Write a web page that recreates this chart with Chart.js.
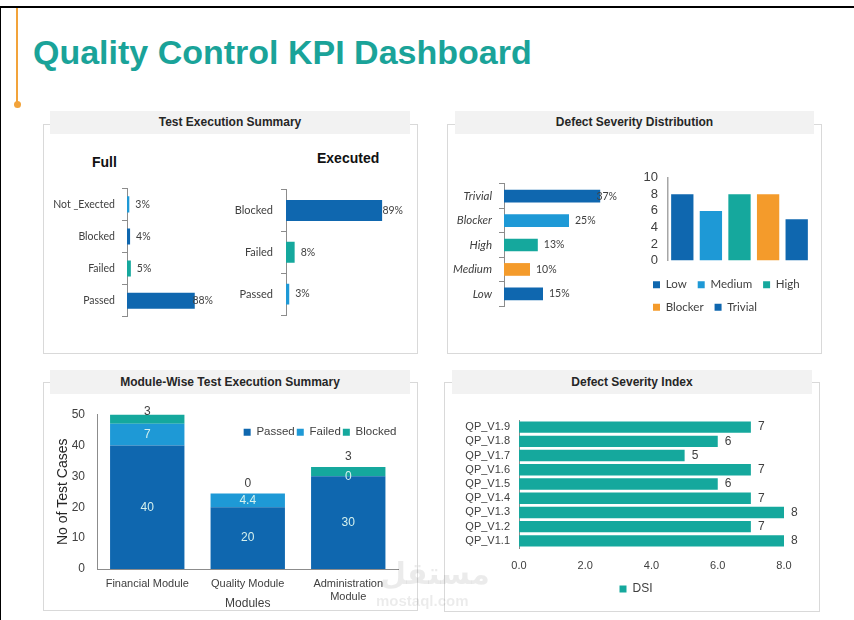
<!DOCTYPE html>
<html>
<head>
<meta charset="utf-8">
<title>Quality Control KPI Dashboard</title>
<script src="https://cdn.jsdelivr.net/npm/chart.js@4.4.1/dist/chart.umd.min.js"></script>
<style>
  html, body { margin: 0; padding: 0; background: #fff; }
  #page { position: relative; width: 854px; height: 620px; overflow: hidden; font-family: 'Liberation Sans', Arial, sans-serif; }
  .frame-top { position: absolute; left: 0; top: 6px; width: 854px; height: 2px; background: #000; }
  .frame-left { position: absolute; left: 0; top: 6px; width: 1px; height: 614px; background: #000; }
  .accent { position: absolute; left: 16px; top: 8px; width: 1.5px; height: 94px; background: #F2A33A; }
  .accent-dot { position: absolute; left: 13.5px; top: 100.5px; width: 7px; height: 7px; border-radius: 50%; background: #F2A33A; }
  h1 { position: absolute; left: 33px; top: 35px; margin: 0; font-size: 34px; line-height: 34px; font-weight: bold; color: #1AA399; white-space: nowrap; }
  .panel { position: absolute; border: 1px solid #D9D9D9; box-sizing: border-box; }
  .panel-title { position: absolute; background: #F2F2F2; text-align: center; font-size: 12px; font-weight: bold; color: #262626; }
  .sub { position: absolute; font-size: 14px; line-height: 16px; font-weight: bold; color: #111; }
  .wm { position: absolute; color: rgba(0,0,0,0.08); font-weight: bold; white-space: nowrap; }
  canvas { position: absolute; }
</style>
</head>
<body>
<div id="page">
  <div class="frame-top"></div>
  <div class="frame-left"></div>
  <div class="accent"></div>
  <div class="accent-dot"></div>
  <h1>Quality Control KPI Dashboard</h1>

  <div class="panel" style="left:43px;top:124px;width:375px;height:230px"></div>
  <div class="panel-title" style="left:50px;top:111px;width:360px;height:23px;line-height:23px">Test Execution Summary</div>
  <div class="panel" style="left:447px;top:124px;width:375px;height:230px"></div>
  <div class="panel-title" style="left:455px;top:111px;width:359px;height:23px;line-height:23px">Defect Severity Distribution</div>
  <div class="panel" style="left:43px;top:382px;width:375px;height:229px"></div>
  <div class="panel-title" style="left:50px;top:370px;width:360px;height:24px;line-height:24px">Module-Wise Test Execution Summary</div>
  <div class="panel" style="left:444px;top:382px;width:376px;height:230px"></div>
  <div class="panel-title" style="left:452px;top:370px;width:360px;height:24px;line-height:24px">Defect Severity Index</div>

  <div class="sub" style="left:92px;top:154px">Full</div>
  <div class="sub" style="left:317px;top:150px">Executed</div>

  <canvas id="cFull" width="180" height="155" style="left:45px;top:175px"></canvas>
  <canvas id="cExec" width="200" height="155" style="left:215px;top:175px"></canvas>
  <canvas id="cSev" width="180" height="150" style="left:450px;top:170px"></canvas>
  <canvas id="cSevCount" width="185" height="163" style="left:642px;top:160px"></canvas>
  <canvas id="cModule" width="370" height="221" style="left:45px;top:391px"></canvas>
  <canvas id="cDsi" width="370" height="205" style="left:448px;top:400px"></canvas>

  <div class="wm" style="left:380px;top:556px;font-size:30px;font-family:'DejaVu Sans',sans-serif">مستقل</div>
  <div class="wm" style="left:376px;top:592px;font-size:15px">mostaql.com</div>
</div>
<script>
'use strict';

// ---- data ----
const fullCats = ['Not _Exected', 'Blocked', 'Failed', 'Passed'];
const fullPct = [3, 4, 5, 88];

const execCats = ['Blocked', 'Failed', 'Passed'];
const execPct = [89, 8, 3];

const sevCats = ['Trivial', 'Blocker', 'High', 'Medium', 'Low'];
const sevPct = [37, 25, 13, 10, 15];

const sevCountCats = ['Low', 'Medium', 'High', 'Blocker', 'Trivial'];
const sevCounts = [8, 6, 8, 8, 5];

const moduleCats = ['Financial Module', 'Quality Module', ['Administration', 'Module']];
const modPassed = [40, 20, 30];
const modFailed = [7, 4.4, 0];
const modBlocked = [3, 0, 3];

const dsiCats = ['QP_V1.1', 'QP_V1.2', 'QP_V1.3', 'QP_V1.4', 'QP_V1.5', 'QP_V1.6', 'QP_V1.7', 'QP_V1.8', 'QP_V1.9'];
const dsiVals = [8, 7, 8, 7, 6, 7, 5, 6, 7];

// ---- styling ----
const DARK = '#0F67AF', LIGHT = '#1E99D6', TEAL = '#15A89D', ORANGE = '#F49B2B';
const TXT = '#404040', AXIS = '#8C8C8C';
const ARIAL = "'Liberation Sans', Arial, sans-serif";
const CALIBRI = "Lato, 'Liberation Sans', sans-serif";

Chart.defaults.animation = false;
Chart.defaults.responsive = false;
Chart.defaults.color = TXT;
Chart.defaults.font.family = ARIAL;
Chart.defaults.plugins.tooltip.enabled = false;

// value labels drawn next to / inside bars (style kept on the dataset)
const barLabels = {
    id: 'barLabels',
    afterDatasetsDraw(chart) {
        const { ctx, chartArea } = chart;
        chart.data.datasets.forEach((ds, di) => {
            const lab = ds.barLabel;
            if (!lab) return;
            ctx.save();
            ctx.font = lab.font;
            ctx.fillStyle = lab.color;
            ctx.textBaseline = 'middle';
            chart.getDatasetMeta(di).data.forEach((bar, i) => {
                const text = ds.data[i] + (lab.suffix || '');
                if (lab.pos === 'right') {
                    ctx.textAlign = 'left';
                    const w = ctx.measureText(text).width;
                    const x = Math.min(bar.x + lab.offset, chart.width - (lab.edge || 0) - w);
                    ctx.fillText(text, x, bar.y);
                } else if (lab.pos === 'center') {
                    ctx.textAlign = 'center';
                    ctx.fillText(text, bar.x, (bar.y + bar.base) / 2);
                } else {
                    ctx.textAlign = 'center';
                    ctx.fillText(text, bar.x, Math.max(bar.y - lab.offset, chartArea.top - 3));
                }
            });
            ctx.restore();
        });
    }
};

// nudges the legend box after layout (into the plot, or sideways)
const legendNudge = {
    id: 'legendNudge',
    afterLayout(chart, args, opts) {
        const lg = chart.legend;
        if (!lg) return;
        if (opts.dy !== undefined) {
            const h = lg.height;
            lg.top = chart.chartArea.top + opts.dy;
            lg.bottom = lg.top + h;
        }
        if (opts.dx) {
            lg.left += opts.dx;
            lg.right += opts.dx;
        }
    }
};

const catAxis = (width, pad, font) => ({
    afterFit: s => { s.width = width; },
    grid: { drawOnChartArea: false, tickLength: 5, color: AXIS },
    border: { color: AXIS },
    ticks: { color: TXT, font, padding: pad, autoSkip: false }
});

const pctLabel = { pos: 'right', offset: 6, edge: 12, suffix: '%', font: '10.5px Lato', color: TXT };

// Full
new Chart(document.getElementById('cFull'), {
    type: 'bar',
    data: {
        labels: fullCats,
        datasets: [{ data: fullPct, backgroundColor: [LIGHT, DARK, TEAL, DARK],
            categoryPercentage: 1, barPercentage: 0.5, barLabel: pctLabel }]
    },
    options: {
        indexAxis: 'y',
        layout: { padding: { top: 13, bottom: 13, right: 21 } },
        plugins: { legend: { display: false } },
        scales: {
            x: { display: false, min: 0, max: 100 },
            y: catAxis(82, 7, { family: CALIBRI, size: 10.5 })
        }
    },
    plugins: [barLabels]
});

// Executed
new Chart(document.getElementById('cExec'), {
    type: 'bar',
    data: {
        labels: execCats,
        datasets: [{ data: execPct, backgroundColor: [DARK, TEAL, LIGHT],
            categoryPercentage: 1, barPercentage: 0.5, barLabel: pctLabel }]
    },
    options: {
        indexAxis: 'y',
        layout: { padding: { top: 13, bottom: 15, right: 21 } },
        plugins: { legend: { display: false } },
        scales: {
            x: { display: false, min: 0, max: 100 },
            y: catAxis(71, 8, { family: CALIBRI, size: 11 })
        }
    },
    plugins: [barLabels]
});

// Defect severity %
new Chart(document.getElementById('cSev'), {
    type: 'bar',
    data: {
        labels: sevCats,
        datasets: [{ data: sevPct, backgroundColor: [DARK, LIGHT, TEAL, ORANGE, DARK],
            categoryPercentage: 1, barPercentage: 0.52,
            barLabel: Object.assign({}, pctLabel, { edge: 13 }) }]
    },
    options: {
        indexAxis: 'y',
        layout: { padding: { top: 12, bottom: 11, right: 22 } },
        plugins: { legend: { display: false } },
        scales: {
            x: { display: false, min: 0, max: 40 },
            y: catAxis(54, 7, { family: CALIBRI, size: 11.5, style: 'italic' })
        }
    },
    plugins: [barLabels]
});

// Defect severity counts
const sevCountColors = [DARK, LIGHT, TEAL, ORANGE, DARK];
new Chart(document.getElementById('cSevCount'), {
    type: 'bar',
    data: {
        labels: sevCountCats,
        datasets: [{ data: sevCounts, backgroundColor: sevCountColors, categoryPercentage: 1, barPercentage: 0.78 }]
    },
    options: {
        layout: { padding: { top: 13, right: 16 } },
        plugins: {
            legend: {
                position: 'bottom', align: 'start',
                labels: {
                    boxWidth: 7, boxHeight: 7, padding: 11, color: TXT,
                    font: { family: CALIBRI, size: 11.5 },
                    generateLabels: chart => chart.data.labels.map((t, i) => ({
                        text: t, fillStyle: sevCountColors[i], strokeStyle: sevCountColors[i],
                        lineWidth: 0, hidden: false, index: i, fontColor: TXT
                    }))
                }
            }
        },
        scales: {
            x: { ticks: { display: false }, grid: { display: false, drawTicks: false }, border: { display: false },
                 afterFit: s => { s.height = 7.5; } },
            y: { min: 0, max: 10, afterFit: s => { s.width = 26; },
                 grid: { display: false, drawTicks: false }, border: { color: '#A6A6A6', width: 1.5 },
                 ticks: { stepSize: 2, padding: 10, color: TXT, font: { size: 13 }, autoSkip: false } }
        }
    }
});

// Module-wise stacked
new Chart(document.getElementById('cModule'), {
    type: 'bar',
    data: {
        labels: moduleCats,
        datasets: [
            { label: 'Passed', data: modPassed, backgroundColor: DARK, categoryPercentage: 1, barPercentage: 0.74,
              barLabel: { pos: 'center', font: '12px "Liberation Sans"', color: '#D5F1EE' } },
            { label: 'Failed', data: modFailed, backgroundColor: LIGHT, categoryPercentage: 1, barPercentage: 0.74,
              barLabel: { pos: 'center', font: '12px "Liberation Sans"', color: '#D5F1EE' } },
            { label: 'Blocked', data: modBlocked, backgroundColor: TEAL, categoryPercentage: 1, barPercentage: 0.74,
              barLabel: { pos: 'above', offset: 10, font: '12px "Liberation Sans"', color: TXT } }
        ]
    },
    options: {
        layout: { padding: { top: 0, right: 16.5, bottom: 1 } },
        plugins: {
            legend: {
                position: 'top', align: 'end',
                labels: { boxWidth: 7, boxHeight: 7, padding: 2, color: TXT, font: { size: 11.5 } }
            },
            legendNudge: { dy: 10 }
        },
        scales: {
            x: { stacked: true, afterFit: s => { s.height = 42; },
                 grid: { display: false, drawTicks: false }, border: { color: AXIS },
                 ticks: { padding: 8, color: TXT, font: { size: 11 }, maxRotation: 0, autoSkip: false },
                 title: { display: true, text: 'Modules', color: TXT, font: { size: 12 }, padding: 0 } },
            y: { stacked: true, min: 0, max: 50, afterFit: s => { s.width = 52; },
                 grid: { display: false, drawTicks: false }, border: { color: AXIS },
                 ticks: { stepSize: 10, padding: 12, color: TXT, font: { size: 12 } },
                 title: { display: true, text: 'No of Test Cases', color: '#262626', font: { size: 14 }, padding: { top: 10, bottom: 0 } } }
        }
    },
    plugins: [barLabels, legendNudge]
});

// Defect Severity Index
new Chart(document.getElementById('cDsi'), {
    type: 'bar',
    data: {
        labels: dsiCats,
        datasets: [{ label: 'DSI', data: dsiVals, backgroundColor: TEAL, categoryPercentage: 1, barPercentage: 0.8,
            barLabel: { pos: 'right', offset: 7, font: '12px "Liberation Sans"', color: TXT } }]
    },
    options: {
        indexAxis: 'y',
        layout: { padding: { top: 20, right: 34 } },
        plugins: {
            legend: {
                position: 'bottom',
                labels: { boxWidth: 7, boxHeight: 7, padding: 10, color: TXT, font: { size: 12 } }
            },
            legendNudge: { dx: 20 }
        },
        scales: {
            x: { min: 0, max: 8, afterFit: s => { s.height = 25; },
                 grid: { display: false, drawTicks: false }, border: { display: false },
                 ticks: { stepSize: 2, padding: 11, color: TXT, font: { size: 11 }, callback: v => v.toFixed(1) } },
            y: { reverse: true, afterFit: s => { s.width = 71; },
                 grid: { display: false, drawTicks: false }, border: { color: AXIS },
                 ticks: { padding: 9, color: TXT, font: { size: 11 }, autoSkip: false } }
        }
    },
    plugins: [barLabels, legendNudge]
});
</script>
</body>
</html>
